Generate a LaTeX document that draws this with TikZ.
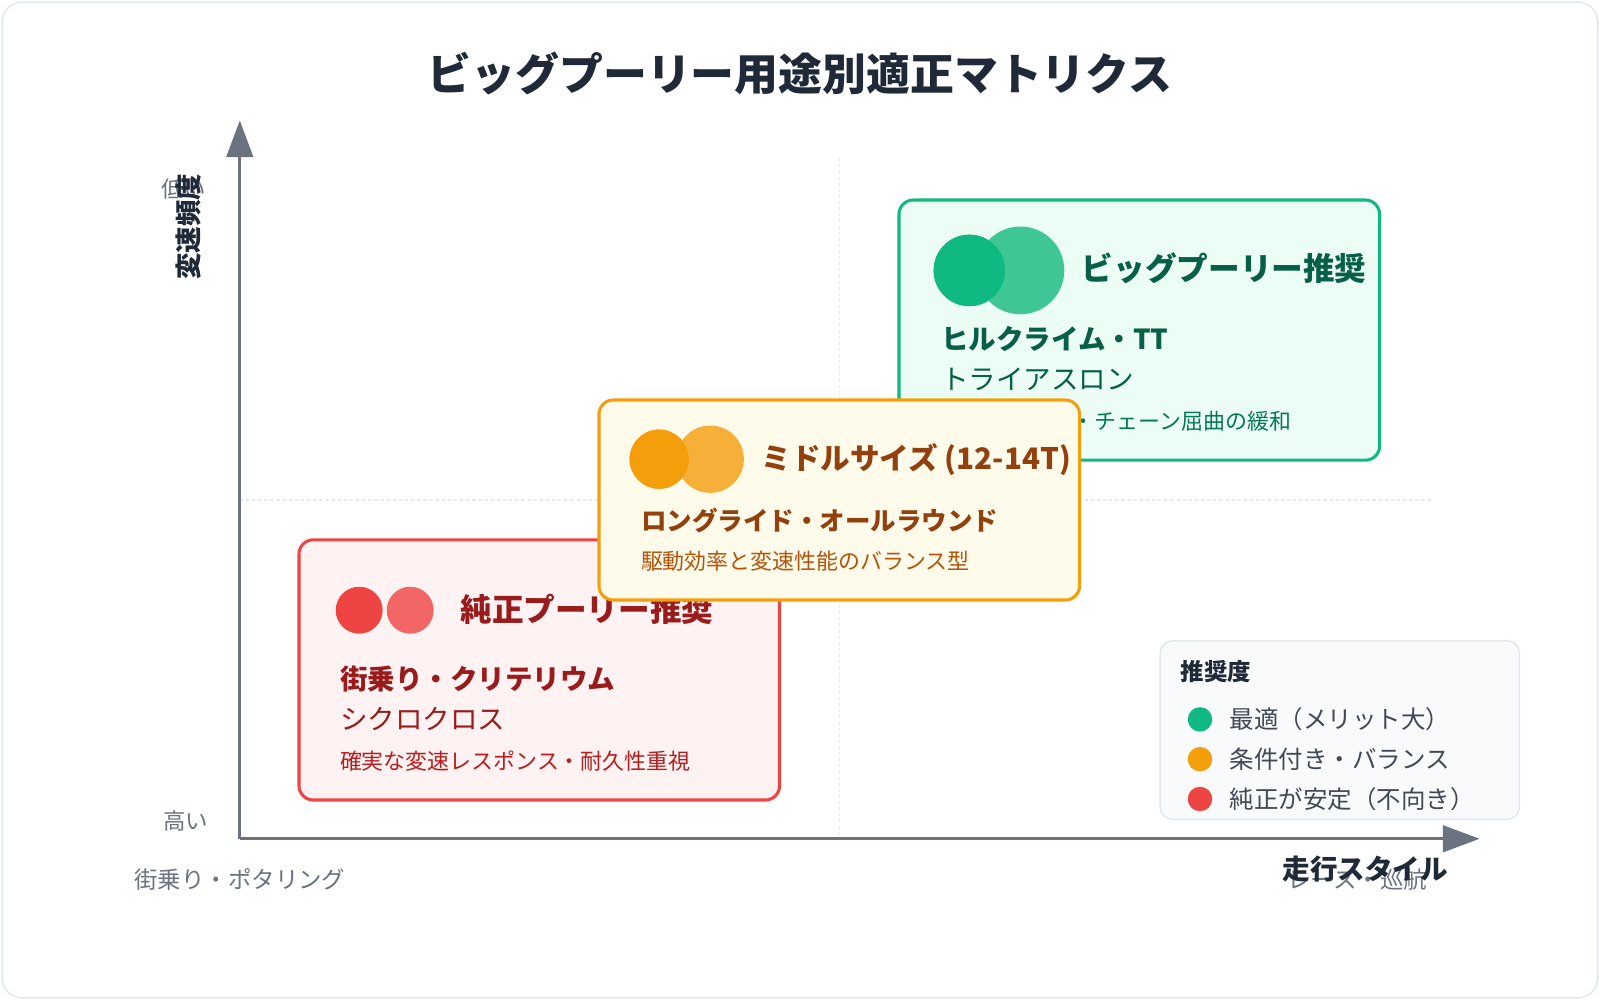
\documentclass[tikz,border=0pt]{standalone}
\usepackage{fontspec}
\setmainfont{Noto Sans CJK JP}
\usetikzlibrary{arrows.meta,positioning}
\definecolor{ink}{HTML}{1F2937}
\definecolor{axisgray}{HTML}{6B7280}
\definecolor{redline}{HTML}{EF4444}
\definecolor{redfill}{HTML}{FEF2F2}
\definecolor{redlight}{HTML}{F26666}
\definecolor{reddark}{HTML}{991B1B}
\definecolor{redtext}{HTML}{B91C1C}
\definecolor{greenline}{HTML}{10B981}
\definecolor{greenfill}{HTML}{ECFDF5}
\definecolor{greenlight}{HTML}{3EC795}
\definecolor{greendark}{HTML}{065F46}
\definecolor{greentext}{HTML}{047857}
\definecolor{orangeline}{HTML}{F59E0B}
\definecolor{orangefill}{HTML}{FFFBEB}
\definecolor{orangelight}{HTML}{F6B03A}
\definecolor{orangedark}{HTML}{92400E}
\definecolor{orangetext}{HTML}{B45309}
\definecolor{legendfill}{HTML}{F8FAFC}
\definecolor{legendline}{HTML}{E2E8F0}
\newcommand{\fs}[1]{\fontsize{#1}{#1}\selectfont}
\tikzset{
  card/.style={draw, line width=3pt, rounded corners=14pt},
  lbl/.style={anchor=west, inner sep=0pt},
  dot/.style={circle, inner sep=0pt, minimum size=#1},
}
\begin{document}
\begin{tikzpicture}[x=1pt,y=-1pt]
\useasboundingbox (0,0) rectangle (1568,980);
\draw[rounded corners=20pt, draw=legendline, line width=1.5pt, fill=white] (2,2) rectangle (1566,978);
\node[font=\fs{43}\bfseries, text=ink] (title) at (784,72) {ビッグプーリー用途別適正マトリクス};
% axes
\coordinate (origin) at (235,822);
\coordinate (ytop) at (235,118);
\coordinate (xend) at (1450,822);
\draw[dashed, legendline, line width=1pt] (823,155) -- (823,822);
\draw[dashed, legendline, line width=1pt] (235,490) -- (1405,490);
\draw[axisgray, line width=3pt, -{Triangle[length=36pt,width=26pt]}] (origin) -- (ytop);
\draw[axisgray, line width=3pt, -{Triangle[length=36pt,width=26pt]}] (origin) -- (xend);
\node[font=\fs{22}, text=axisgray] (yhigh) at (182,805) {高い};
\node[font=\fs{22}, text=axisgray] (ylow) at (180,185) {低い};
\node[font=\fs{26}\bfseries, text=ink, rotate=90] (ytitle) at (185,222) {変速頻度};
\node[font=\fs{23}, text=axisgray] (xlow) at (235,862) {街乗り・ポタリング};
\node[font=\fs{23}, text=axisgray] (xhigh) at (1330,862) {レース・巡航};
\node[font=\fs{27}\bfseries, text=ink] (xtitle) at (1338,852) {走行スタイル};
% red card
\draw[card, draw=redline, fill=redfill] (293,529) rectangle (764,784);
\node[dot=46pt, fill=redline] (rc1) at (352,598) {};
\node[dot=46pt, fill=redlight] (rc2) at (402,598) {};
\node[lbl, font=\fs{31}\bfseries, text=reddark] (rtitle) at (451,597) {純正プーリー推奨};
\node[lbl, font=\fs{27}\bfseries, text=reddark] (ruse1) at (333,665) {街乗り・クリテリウム};
\node[lbl, font=\fs{27}, text=reddark] (ruse2) at (333,705) {シクロクロス};
\node[lbl, font=\fs{21.5}, text=redtext] (rnote) at (333,746) {確実な変速レスポンス・耐久性重視};
% green card
\draw[card, draw=greenline, fill=greenfill] (881,196) rectangle (1352,451);
\node[dot=70pt, fill=greenline] (gc1) at (950,265) {};
\node[dot=86pt, fill=greenlight] (gc2) at (1000,265) {};
\node[dot=70pt, fill=greenline] at (gc1) {};
\node[lbl, font=\fs{31}\bfseries, text=greendark] (gtitle) at (1060,263) {ビッグプーリー推奨};
\node[lbl, font=\fs{27}\bfseries, text=greendark] (guse1) at (922,332) {ヒルクライム・TT};
\node[lbl, font=\fs{27}, text=greendark] (guse2) at (922,372) {トライアスロン};
\node[lbl, font=\fs{21.5}, text=greentext] (gnote) at (922,413) {駆動損失低減・チェーン屈曲の緩和};
% orange card
\draw[card, draw=orangeline, fill=orangefill] (587,392) rectangle (1058,588);
\node[dot=58pt, fill=orangeline] (oc1) at (646,450) {};
\node[dot=66pt, fill=orangelight] (oc2) at (696,450) {};
\node[dot=58pt, fill=orangeline] at (oc1) {};
\node[lbl, font=\fs{29}\bfseries, text=orangedark] (otitle) at (746,450) {ミドルサイズ (12-14T)};
\node[lbl, font=\fs{25}\bfseries, text=orangedark] (ouse) at (628,510) {ロングライド・オールラウンド};
\node[lbl, font=\fs{21.5}, text=orangetext] (onote) at (628,550) {駆動効率と変速性能のバランス型};
% legend
\draw[draw=legendline, fill=legendfill, line width=1.5pt, rounded corners=12pt] (1137,628) rectangle (1489,803);
\node[lbl, font=\fs{23}\bfseries, text=ink] (legtitle) at (1157,658) {推奨度};
\foreach \y/\c/\t [count=\i] in {705/greenline/最適（メリット大）, 744/orangeline/条件付き・バランス, 783/redline/純正が安定（不向き）}{
  \node[dot=24pt, fill=\c] (legdot\i) at (1176,\y) {};
  \node[lbl, font=\fs{24}, text=ink!85] (legtext\i) at (1205,\y) {\t};
}
\end{tikzpicture}
\end{document}
